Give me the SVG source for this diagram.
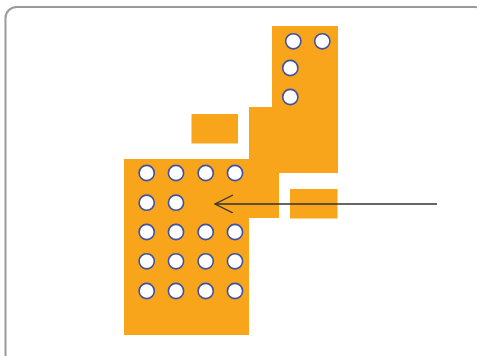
<svg xmlns="http://www.w3.org/2000/svg" width="477" height="356" viewBox="0 0 477 356">
<style>
.pad{fill:#F8A51C}
.via{fill:#ffffff;stroke:#3F51A0;stroke-width:1.6}
.conn{fill:none;stroke:#333333;stroke-width:1.3}
</style>
<defs>
<marker id="open" markerWidth="20" markerHeight="20" refX="19" refY="9" orient="auto" markerUnits="userSpaceOnUse">
<path d="M1,0 L19,9 L1,18" fill="none" stroke="#333333" stroke-width="1.3"/>
</marker>
</defs>
<rect x="5.5" y="7" width="480" height="360" rx="11" fill="#ffffff" stroke="#9a9a9a" stroke-width="2"/>
<g id="copper">
<polygon class="pad" points="272,26 338,26 338,173 279,173 279,218 249,218 249,335 124,335 124,159 249,159 249,107 272,107"/>
</g>
<g id="pad-top"><rect class="pad" x="191.5" y="114" width="46.5" height="29.5"/></g>
<g id="pad-right"><rect class="pad" x="290" y="189" width="47.5" height="29.5"/></g>
<g id="vias">
<circle class="via" cx="293.3" cy="41.3" r="7.6"/>
<circle class="via" cx="322.3" cy="41.3" r="7.6"/>
<circle class="via" cx="290.3" cy="68" r="7.6"/>
<circle class="via" cx="290.3" cy="97" r="7.6"/>
<circle class="via" cx="146.7" cy="173" r="7.6"/>
<circle class="via" cx="176" cy="173" r="7.6"/>
<circle class="via" cx="205.7" cy="173" r="7.6"/>
<circle class="via" cx="235" cy="173" r="7.6"/>
<circle class="via" cx="146.7" cy="202.7" r="7.6"/>
<circle class="via" cx="176" cy="202.7" r="7.6"/>
<circle class="via" cx="146.7" cy="232" r="7.6"/>
<circle class="via" cx="176" cy="232" r="7.6"/>
<circle class="via" cx="205.7" cy="232" r="7.6"/>
<circle class="via" cx="235" cy="232" r="7.6"/>
<circle class="via" cx="146.7" cy="261.3" r="7.6"/>
<circle class="via" cx="176" cy="261.3" r="7.6"/>
<circle class="via" cx="205.7" cy="261.3" r="7.6"/>
<circle class="via" cx="235" cy="261.3" r="7.6"/>
<circle class="via" cx="146.7" cy="291" r="7.6"/>
<circle class="via" cx="176" cy="291" r="7.6"/>
<circle class="via" cx="205.7" cy="291" r="7.6"/>
<circle class="via" cx="235" cy="291" r="7.6"/>
</g>
<g id="connectors">
<line class="conn" x1="437" y1="204" x2="215" y2="204" marker-end="url(#open)"/>
</g>
</svg>
